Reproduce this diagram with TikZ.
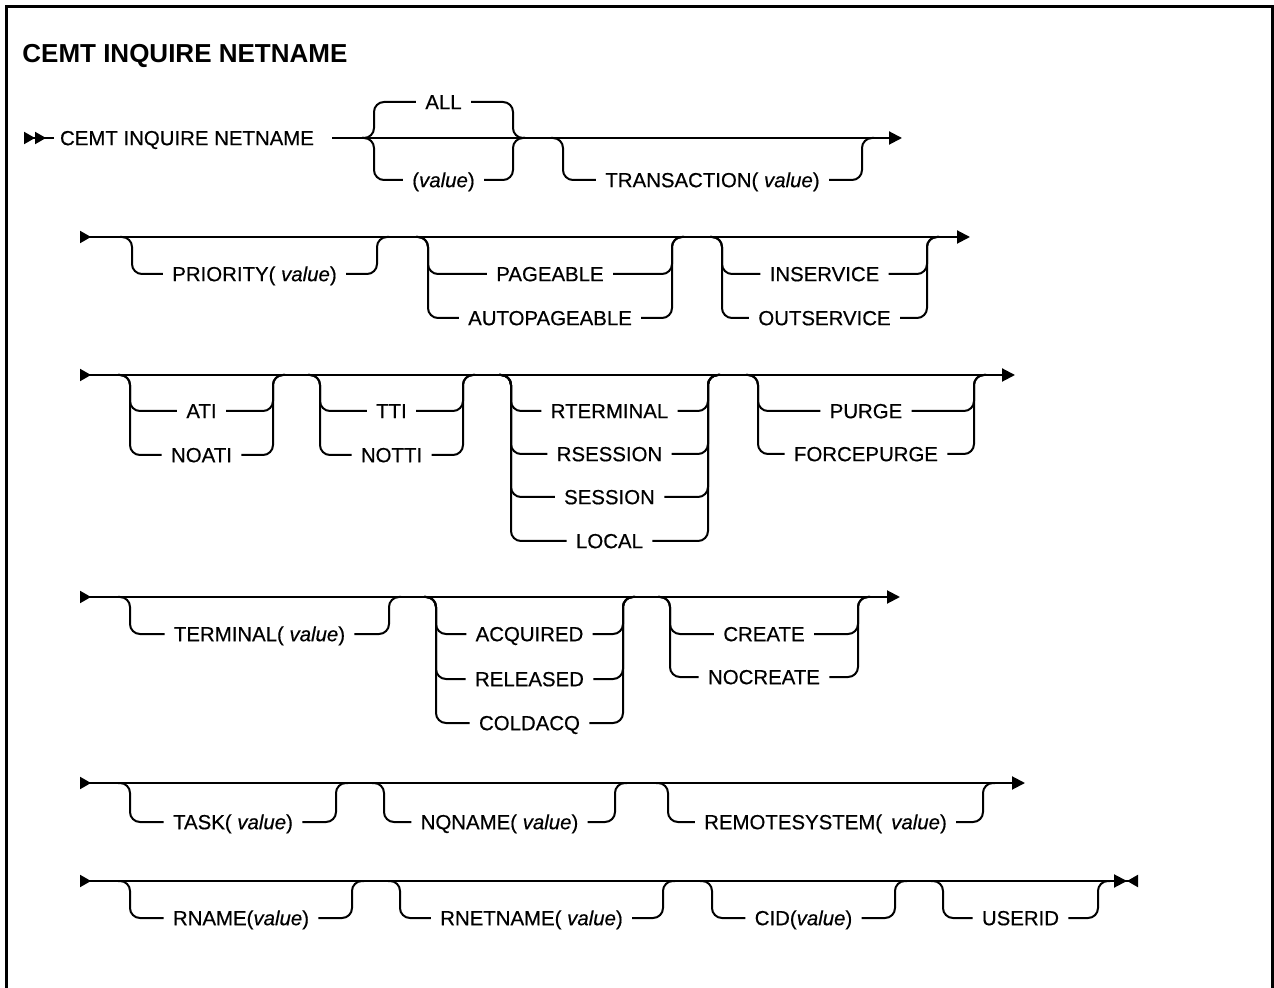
\documentclass[tikz,border=0pt]{standalone}
\usepackage{fontspec}
\setmainfont{Liberation Sans}
\newfontfamily\railfont{Liberation Sans}[FakeBold=0.5]
\usetikzlibrary{arrows.meta}
\tikzset{
  rail/.style={line width=1pt, rounded corners=5pt},
  kw/.style={font=\railfont\fontsize{10.2}{12}\selectfont, inner xsep=4.5pt, inner ysep=0pt,
             text height=7.2pt, text depth=0pt},
  boxline/.style={line width=1.5pt},
  rtip/.tip={Triangle[length=6.5pt,width=6.5pt]},
  ltip/.tip={Triangle[length=5.5pt,width=6pt,reversed]}
}
% main y, branch y, left x, right x, text, name
\newcommand{\railopt}[6]{%
  \node[kw] (#6) at ({(#3+#4)/2},#2) {#5};
  \draw[rail] (#3-12,#1) -| (#3,#2) -- (#6.west);
  \draw[rail] (#6.east) -- (#4,#2) |- (#4+12,#1);
}
\newcommand{\val}{\textit{value}}
\begin{document}
\begin{tikzpicture}[x=0.5pt, y=-0.5pt]
  \useasboundingbox (0,0) rectangle (1274,988);
  \draw[boxline] (6,988) -- (6,7) -- (1272,7) -- (1272,988);
  \node[anchor=west, inner sep=0pt, font=\bfseries\fontsize{13}{15}\selectfont] (title) at (22,56) {CEMT INQUIRE NETNAME};

  % row 1
  \node[kw, inner xsep=3pt] (cmd) at (187,138) {CEMT INQUIRE NETNAME};
  \coordinate (r1s) at (24,138);
  \coordinate (r1e) at (902,138);
  \draw[rail, {ltip[]ltip[]}-] (r1s) -- (cmd.west);
  \draw[rail, -{rtip[]}] ([xshift=6pt]cmd.east) -- (r1e);
  \railopt{138}{102}{374}{513}{ALL}{all}
  \railopt{138}{180}{374}{513}{(\val)}{anyval}
  \railopt{138}{180}{563}{862}{TRANSACTION( \val)}{trans}

  % row 2
  \coordinate (r2s) at (80,237);
  \coordinate (r2e) at (970,237);
  \draw[rail, {ltip[]}-{rtip[]}] (r2s) -- (r2e);
  \railopt{237}{274}{132}{377}{PRIORITY( \val)}{prio}
  \railopt{237}{274}{428}{672}{PAGEABLE}{pageable}
  \railopt{237}{318}{428}{672}{AUTOPAGEABLE}{autopageable}
  \railopt{237}{274}{722}{927}{INSERVICE}{inserv}
  \railopt{237}{318}{722}{927}{OUTSERVICE}{outserv}

  % row 3
  \coordinate (r3s) at (80,375);
  \coordinate (r3e) at (1015,375);
  \draw[rail, {ltip[]}-{rtip[]}] (r3s) -- (r3e);
  \railopt{375}{411}{130}{273}{ATI}{ati}
  \railopt{375}{455}{130}{273}{NOATI}{noati}
  \railopt{375}{411}{320}{463}{TTI}{tti}
  \railopt{375}{455}{320}{463}{NOTTI}{notti}
  \railopt{375}{411}{511}{708}{RTERMINAL}{rterm}
  \railopt{375}{454}{511}{708}{RSESSION}{rsess}
  \railopt{375}{497}{511}{708}{SESSION}{sess}
  \railopt{375}{541}{511}{708}{LOCAL}{local}
  \railopt{375}{411}{758}{974}{PURGE}{purge}
  \railopt{375}{454}{758}{974}{FORCEPURGE}{fpurge}

  % row 4
  \coordinate (r4s) at (80,597);
  \coordinate (r4e) at (900,597);
  \draw[rail, {ltip[]}-{rtip[]}] (r4s) -- (r4e);
  \railopt{597}{634}{130}{389}{TERMINAL( \val)}{term}
  \railopt{597}{634}{436}{623}{ACQUIRED}{acq}
  \railopt{597}{679}{436}{623}{RELEASED}{rel}
  \railopt{597}{723}{436}{623}{COLDACQ}{coldacq}
  \railopt{597}{634}{670}{858}{CREATE}{create}
  \railopt{597}{677}{670}{858}{NOCREATE}{nocreate}

  % row 5
  \coordinate (r5s) at (80,783);
  \coordinate (r5e) at (1025,783);
  \draw[rail, {ltip[]}-{rtip[]}] (r5s) -- (r5e);
  \railopt{783}{822}{130}{336}{TASK( \val)}{task}
  \railopt{783}{822}{384}{615}{NQNAME( \val)}{nqname}
  \railopt{783}{822}{668}{983}{REMOTESYSTEM(\, \val)}{remsys}

  % row 6
  \coordinate (r6s) at (80,881);
  \coordinate (r6e) at (1138,881);
  \draw[rail, {ltip[]}-{rtip[]ltip[]}] (r6s) -- (r6e);
  \railopt{881}{918}{130}{352}{RNAME(\val)}{rname}
  \railopt{881}{918}{400}{663}{RNETNAME( \val)}{rnetname}
  \railopt{881}{918}{712}{895}{CID(\val)}{cid}
  \railopt{881}{918}{943}{1098}{USERID}{userid}
\end{tikzpicture}
\end{document}
